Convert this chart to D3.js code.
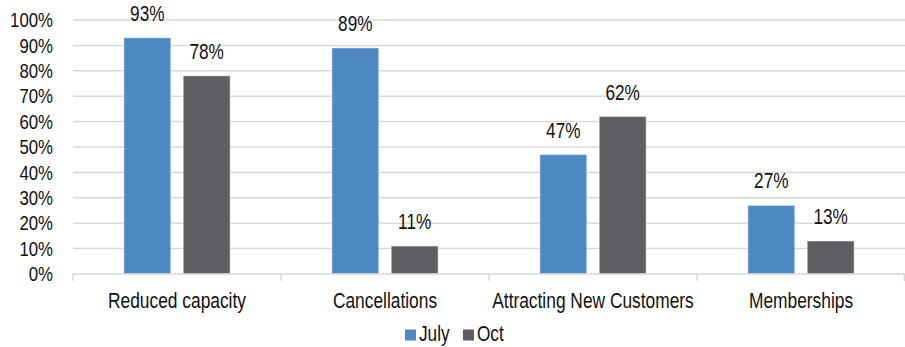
<!DOCTYPE html>
<html>
<head>
<meta charset="utf-8">
<script src="https://cdn.jsdelivr.net/npm/d3@7"></script>
<style>
  html, body { margin: 0; padding: 0; background: #fff; }
  svg { display: block; }
  text { font-family: "Liberation Sans", Arial, sans-serif; fill: #111; }
</style>
</head>
<body>
<svg id="chart" width="905" height="347"></svg>
<script>
// Survey results by category, two waves
const categories = ["Reduced capacity", "Cancellations", "Attracting New Customers", "Memberships"];
const seriesNames = ["July", "Oct"];
const julyValues = [93, 89, 47, 27];
const octValues = [78, 11, 62, 13];
const yTicks = [0, 10, 20, 30, 40, 50, 60, 70, 80, 90, 100];

const colors = { July: "#4E8AC1", Oct: "#5E5F63" };
const seriesValues = { July: julyValues, Oct: octValues };

const svg = d3.select("#chart");
const W = 905;
const margin = { left: 73, right: 0, top: 20, bottom: 73 };
const plotTop = 20, plotBottom = 274;

// Text is drawn in a condensed style: wide font, narrowed horizontally
const SX = 0.8;
function label(g, x, y, str, anchor, size) {
  return g.append("text")
    .attr("transform", `translate(${x},${y}) scale(${SX},1)`)
    .attr("text-anchor", anchor)
    .style("font-size", size + "px")
    .text(str);
}

const x0 = d3.scaleBand().domain(categories).range([margin.left, W]).paddingInner(0).paddingOuter(0);
const x1 = d3.scaleBand().domain(seriesNames).range([0, x0.bandwidth()]).paddingInner(0.21).paddingOuter(0.857);
const y = d3.scaleLinear().domain([0, 100]).range([plotBottom, plotTop]);

// Horizontal gridlines
const grid = svg.append("g");
yTicks.filter(t => t > 0).forEach(t => {
  grid.append("line")
    .attr("x1", margin.left).attr("x2", W)
    .attr("y1", y(t)).attr("y2", y(t))
    .attr("stroke", "#d9d9d9").attr("stroke-width", 1.5);
});

// Y-axis tick labels
const yAxisG = svg.append("g");
yTicks.forEach(t => {
  label(yAxisG, 53, y(t) + 7.2, t + "%", "end", 21);
});

// Bars
const barsG = svg.append("g");
categories.forEach((c, i) => {
  seriesNames.forEach(s => {
    const v = seriesValues[s][i];
    const bx = x0(c) + x1(s);
    barsG.append("rect")
      .attr("x", bx)
      .attr("y", y(v))
      .attr("width", x1.bandwidth())
      .attr("height", y(0) - y(v))
      .attr("fill", colors[s])
      .attr("stroke", "rgba(255,255,255,0.45)")
      .attr("stroke-width", 1);
    label(barsG, bx + x1.bandwidth() / 2, y(v) - 17, v + "%", "middle", 21.5);
  });
});

// Category axis with boundary ticks
const xAxisG = svg.append("g");
xAxisG.append("line")
  .attr("x1", margin.left).attr("x2", W)
  .attr("y1", y(0)).attr("y2", y(0))
  .attr("stroke", "#d9d9d9").attr("stroke-width", 1.5);
categories.concat([null]).forEach((c, i) => {
  const tx = c ? x0(c) : W - 0.75;
  xAxisG.append("line")
    .attr("x1", tx).attr("x2", tx)
    .attr("y1", y(0)).attr("y2", y(0) + 7)
    .attr("stroke", "#d9d9d9").attr("stroke-width", 1.5);
});
categories.forEach(c => {
  label(xAxisG, x0(c) + x0.bandwidth() / 2, 307.5, c, "middle", 21.7);
});

// Legend
const legend = svg.append("g");
const legendItems = [
  { name: "July", sx: 405, tx: 419 },
  { name: "Oct", sx: 463, tx: 477 }
];
legendItems.forEach(d => {
  legend.append("rect")
    .attr("x", d.sx).attr("y", 329.5)
    .attr("width", 11).attr("height", 11)
    .attr("fill", colors[d.name]);
  label(legend, d.tx, 341, d.name, "start", 21.5);
});
</script>
</body>
</html>
